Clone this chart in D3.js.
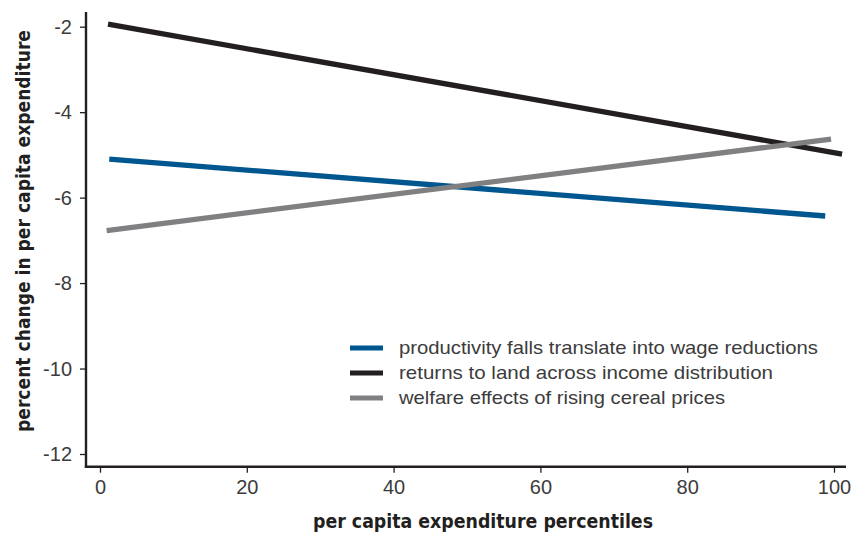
<!DOCTYPE html>
<html>
<head>
<meta charset="utf-8">
<script src="https://cdn.jsdelivr.net/npm/d3@7"></script>
<style>
  html, body { margin: 0; padding: 0; background: #fff; }
  svg { display: block; }
</style>
</head>
<body>
<svg id="chart" width="851" height="533"></svg>
<script>
// ---- data ----
const seriesNames = [
  "productivity falls translate into wage reductions",
  "returns to land across income distribution",
  "welfare effects of rising cereal prices"
];
const wageX = [1.26, 98.8];
const wageY = [-5.10, -6.43];
const landX = [1.09, 101.1];
const landY = [-1.94, -4.98];
const cerealX = [0.91, 99.6];
const cerealY = [-6.77, -4.63];
const xTicks = [0, 20, 40, 60, 80, 100];
const yTicks = [-2, -4, -6, -8, -10, -12];
const xTitle = "per capita expenditure percentiles";
const yTitle = "percent change in per capita expenditure";

const colors = ["#00568f", "#231f20", "#808083"];

const series = [
  { name: seriesNames[0], xs: wageX, ys: wageY, color: colors[0] },
  { name: seriesNames[1], xs: landX, ys: landY, color: colors[1] },
  { name: seriesNames[2], xs: cerealX, ys: cerealY, color: colors[2] }
];

const svg = d3.select("#chart");
const x = d3.scaleLinear().domain([0, 100]).range([100, 834]);
const y = d3.scaleLinear().domain([-2, -12]).range([26.7, 454]);

const axisColor = "#231f20";
const textColor = "#3c3c3c";
const axisLeftX = 86, axisBottomY = 466.7;

// axes lines
svg.append("line").attr("x1", axisLeftX).attr("x2", axisLeftX)
  .attr("y1", 12).attr("y2", axisBottomY + 1.2)
  .attr("stroke", axisColor).attr("stroke-width", 2.4);
svg.append("line").attr("x1", axisLeftX - 1.2).attr("x2", 846)
  .attr("y1", axisBottomY).attr("y2", axisBottomY)
  .attr("stroke", axisColor).attr("stroke-width", 2.4);

// y axis
const yAxis = d3.axisLeft(y).tickValues(yTicks).tickSize(6).tickPadding(8)
  .tickFormat(d => d);
const gy = svg.append("g").attr("transform", `translate(${axisLeftX},0)`).call(yAxis);
gy.select(".domain").remove();
gy.selectAll(".tick line").attr("stroke", axisColor).attr("stroke-width", 1.3);
gy.selectAll(".tick text").attr("fill", textColor)
  .attr("font-family", "'Liberation Sans', Arial, sans-serif")
  .attr("font-size", 20).attr("font-weight", 300).attr("dy", "0.34em");

// x axis
const xAxis = d3.axisBottom(x).tickValues(xTicks).tickSize(6).tickPadding(6)
  .tickFormat(d => d);
const gx = svg.append("g").attr("transform", `translate(0,${axisBottomY})`).call(xAxis);
gx.select(".domain").remove();
gx.selectAll(".tick line").attr("stroke", axisColor).attr("stroke-width", 1.3);
gx.selectAll(".tick text").attr("fill", textColor)
  .attr("font-family", "'Liberation Sans', Arial, sans-serif")
  .attr("font-size", 20).attr("font-weight", 300).attr("dy", "0.78em");

// lines
const line = d3.line().x(d => x(d[0])).y(d => y(d[1]));
series.forEach(s => {
  const pts = s.xs.map((v, i) => [v, s.ys[i]]);
  svg.append("path").attr("d", line(pts))
    .attr("fill", "none").attr("stroke", s.color)
    .attr("stroke-width", 5.3).attr("stroke-linecap", "butt");
});

// legend
const legend = svg.append("g");
const legY = [348, 373, 398];
const legLens = [419, 374, 326];
series.forEach((s, i) => {
  legend.append("line").attr("x1", 350).attr("x2", 383)
    .attr("y1", legY[i]).attr("y2", legY[i])
    .attr("stroke", s.color).attr("stroke-width", 5);
  legend.append("text").attr("x", 399).attr("y", legY[i]).attr("dy", "0.35em")
    .attr("fill", textColor)
    .attr("font-family", "'Liberation Sans', Arial, sans-serif")
    .attr("font-size", 18.5)
    .attr("textLength", legLens[i]).attr("lengthAdjust", "spacingAndGlyphs")
    .text(s.name);
});

// axis titles
svg.append("text").attr("x", 483).attr("y", 528)
  .attr("text-anchor", "middle").attr("fill", "#231f20")
  .attr("font-family", "'Liberation Sans Narrow', 'DejaVu Sans Condensed', Arial, sans-serif")
  .attr("font-weight", "bold").attr("font-size", 20)
  .attr("textLength", 340).attr("lengthAdjust", "spacingAndGlyphs")
  .text(xTitle);

svg.append("text")
  .attr("transform", "translate(30,231) rotate(-90)")
  .attr("text-anchor", "middle").attr("fill", "#231f20")
  .attr("font-family", "'Liberation Sans Narrow', 'DejaVu Sans Condensed', Arial, sans-serif")
  .attr("font-weight", "bold").attr("font-size", 20)
  .attr("textLength", 402).attr("lengthAdjust", "spacingAndGlyphs")
  .text(yTitle);
</script>
</body>
</html>
